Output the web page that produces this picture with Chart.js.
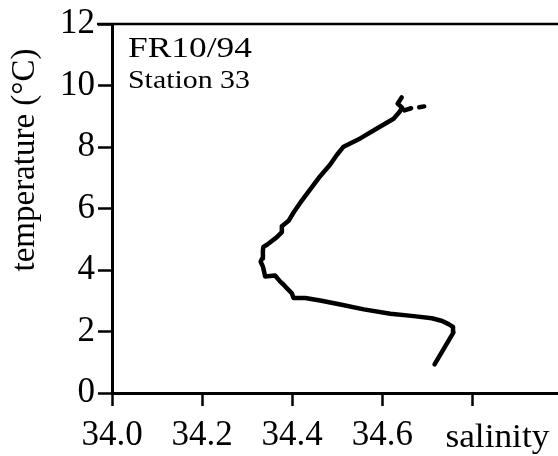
<!DOCTYPE html>
<html>
<head>
<meta charset="utf-8">
<script src="https://cdn.jsdelivr.net/npm/chart.js@4"></script>
<style>
  html, body { margin: 0; padding: 0; background: #fff; }
  #wrap { width: 558px; height: 456px; }
</style>
</head>
<body>
<div id="wrap"><canvas id="c" width="558" height="456"></canvas></div>
<script>
// Temperature–salinity profile, cruise FR10/94, station 33 (bottom to surface)
const salinity = [
  34.716, 34.736, 34.758, 34.757, 34.747, 34.733, 34.710, 34.670, 34.618, 34.559,
  34.507, 34.462, 34.429, 34.403, 34.399, 34.388, 34.381, 34.373, 34.362, 34.340,
  34.335, 34.330, 34.333, 34.335, 34.336, 34.344, 34.366, 34.377, 34.377, 34.392,
  34.403, 34.418, 34.440, 34.462, 34.484, 34.499, 34.514, 34.551, 34.588, 34.625,
  34.638, 34.644, 34.634, 34.643, null, 34.649, 34.664, null, 34.682, 34.693
];
const temperature = [
  0.93, 1.43, 1.97, 2.15, 2.24, 2.34, 2.43, 2.50, 2.58, 2.72,
  2.88, 3.01, 3.09, 3.09, 3.25, 3.41, 3.52, 3.63, 3.82, 3.79,
  4.11, 4.27, 4.37, 4.64, 4.75, 4.82, 5.07, 5.23, 5.42, 5.60,
  5.87, 6.19, 6.62, 7.05, 7.42, 7.74, 8.01, 8.28, 8.60, 8.92,
  9.14, 9.28, 9.41, 9.61, null, 9.19, 9.26, null, 9.29, 9.32
];
const xTickValues = [34.0, 34.2, 34.4, 34.6, 34.8];
const xTickLabels = ['34.0', '34.2', '34.4', '34.6', ''];
const xTitle = 'salinity';
const yTitle = 'temperature (°C)';
const cruiseLabel = 'FR10/94';
const stationLabel = 'Station 33';

const points = salinity.map((s, i) =>
  (s === null ? { x: null, y: null } : { x: s, y: temperature[i] }));

const serif = "'Liberation Serif', 'DejaVu Serif', serif";

// Frame top edge, axis titles and the station caption
const decorations = {
  id: 'decorations',
  afterDraw(chart) {
    const { ctx, chartArea } = chart;
    const xs = chart.scales.x;
    ctx.save();
    ctx.strokeStyle = '#000';
    ctx.lineWidth = 2.5;
    ctx.beginPath();
    ctx.moveTo(chartArea.left - 15, chartArea.top);
    ctx.lineTo(chart.width, chartArea.top);
    ctx.stroke();

    ctx.fillStyle = '#000';
    ctx.save();
    ctx.translate(25, 160);
    ctx.rotate(-Math.PI / 2);
    ctx.font = '33px ' + serif;
    ctx.textAlign = 'center';
    ctx.textBaseline = 'middle';
    ctx.fillText(yTitle, 0, 0);
    ctx.restore();

    const stretched = (text, size, x, y, width) => {
      ctx.save();
      ctx.font = size + 'px ' + serif;
      const w = ctx.measureText(text).width;
      ctx.translate(x, y);
      ctx.scale(width / w, 1);
      ctx.textAlign = 'left';
      ctx.textBaseline = 'alphabetic';
      ctx.fillText(text, 0, 0);
      ctx.restore();
    };
    stretched(cruiseLabel, 30, chartArea.left + 16, 57, 124);
    stretched(stationLabel, 25, chartArea.left + 16, 88, 122);
    stretched(xTitle, 34, xs.getPixelForValue(34.8) - 27, 447, 104);
    ctx.restore();
  }
};

new Chart(document.getElementById('c'), {
  type: 'line',
  data: {
    datasets: [{
      data: points,
      borderColor: '#000',
      borderWidth: 4.5,
      pointRadius: 0,
      tension: 0,
      spanGaps: false,
      borderCapStyle: 'round',
      borderJoinStyle: 'round',
      fill: false
    }]
  },
  options: {
    responsive: false,
    animation: false,
    events: [],
    layout: { padding: { top: 19, right: 0, bottom: 0, left: 0 } },
    plugins: { legend: { display: false }, tooltip: { enabled: false } },
    scales: {
      x: {
        type: 'linear',
        min: 34.0,
        max: 34.99,
        afterBuildTicks(scale) {
          scale.ticks = xTickValues.map(v => ({ value: v }));
        },
        afterFit(scale) { scale.height = 63; },
        border: { display: true, color: '#000', width: 3 },
        grid: { display: true, drawOnChartArea: false, drawTicks: true, tickLength: 13, tickWidth: 2.5, tickColor: '#000' },
        ticks: {
          color: '#000',
          font: { family: serif, size: 35 },
          padding: 9,
          maxRotation: 0,
          autoSkip: false,
          callback(value) {
            const i = xTickValues.findIndex(v => Math.abs(v - value) < 1e-6);
            return i >= 0 ? xTickLabels[i] : '';
          }
        }
      },
      y: {
        type: 'linear',
        min: 0,
        max: 12,
        afterFit(scale) { scale.width = 112; },
        border: { display: true, color: '#000', width: 3 },
        grid: { display: true, drawOnChartArea: false, drawTicks: true, tickLength: 14, tickWidth: 2.5, tickColor: '#000' },
        ticks: {
          stepSize: 2,
          color: '#000',
          font: { family: serif, size: 35 },
          padding: 3
        }
      }
    }
  },
  plugins: [decorations]
});
</script>
</body>
</html>
